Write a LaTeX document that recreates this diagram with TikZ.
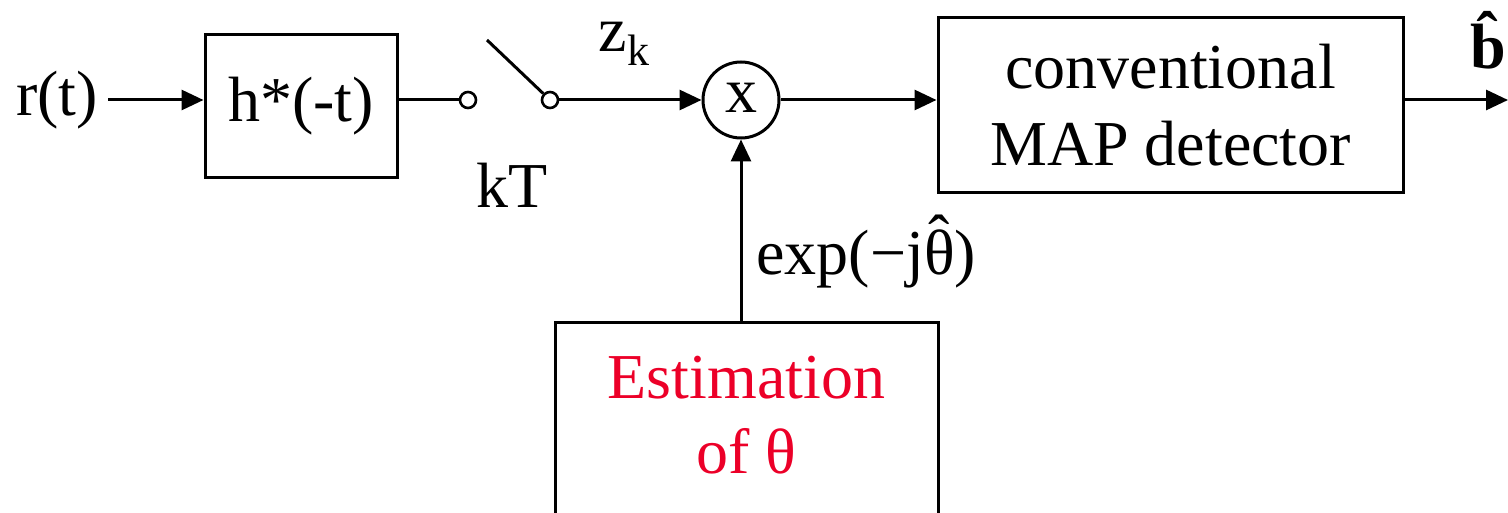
\documentclass[tikz,border=0pt]{standalone}
\usepackage{fontspec}
\setmainfont{Liberation Serif}
\usetikzlibrary{arrows.meta}
\definecolor{estred}{RGB}{236,0,40}
\newcommand{\hatth}{{\ooalign{θ\cr\hidewidth\raisebox{0.24em}{ˆ}\hidewidth\cr}}}
\tikzset{
  txt/.style={font=\fontsize{32}{38}\selectfont, inner sep=2pt},
  blk/.style={draw, line width=1.5pt, rectangle, inner sep=0pt, font=\fontsize{32}{38}\selectfont, align=center},
  port/.style={draw, line width=1.3pt, circle, minimum size=8pt, inner sep=0pt, fill=white},
  wire/.style={line width=1.5pt},
  arr/.style={line width=1.5pt, -{Triangle[length=11pt,width=10pt]}}
}
\begin{document}
\begin{tikzpicture}[x=0.5pt, y=-0.5pt]
\useasboundingbox (0,0) rectangle (1508,513);
\clip (0,0) rectangle (1508,513);
% nodes
\node[txt, anchor=center] (rt) at (57,100) {r(t)};
\node[blk, minimum width=96pt, minimum height=71.5pt] (h) at (301,106.5) {h*(-t)};
\node[port] (c1) at (468,100) {};
\node[port] (c2) at (550,100) {};
\coordinate (lv) at (487,40);
\node[draw, circle, line width=1.5pt, minimum size=38pt, inner sep=0pt, font=\fontsize{32}{38}\selectfont] (m) at (741,100) {\raisebox{2pt}{x}};
\node[blk, minimum width=232.5pt, minimum height=87.5pt, font=\fontsize{32}{38.5}\selectfont] (map) at (1170.5,105.5) {conventional\\MAP detector};
\node[blk, minimum width=191.5pt, minimum height=100pt, text=estred, font=\fontsize{32}{37.5}\selectfont] (est) at (746.5,422) {Estimation\\of θ\vphantom{p}};
\coordinate (out) at (1508,100);
% labels
\node[txt] (zk) at (624,44) {z\raisebox{-7pt}{\fontsize{22}{24}\selectfont k}};
\node[txt] (kt) at (512,185) {kT};
\node[txt, anchor=west] (ex) at (752,259) {exp(−j\hatth)};
\node[txt, font=\fontsize{32}{38}\selectfont\bfseries] (bh) at (1488,40) {\^{b}};
% connectors
\draw[arr, shorten <=3pt] (rt.east) -- (h.west |- rt.east);
\draw[wire] (h.east |- c1) -- (c1);
\draw[wire] (lv) -- (c2);
\draw[arr] (c2) -- (m);
\draw[arr] (m) -- (m -| map.west);
\draw[arr] (map.east |- out) -- (out);
\draw[arr] (m |- est.north) -- (m);
\end{tikzpicture}
\end{document}
